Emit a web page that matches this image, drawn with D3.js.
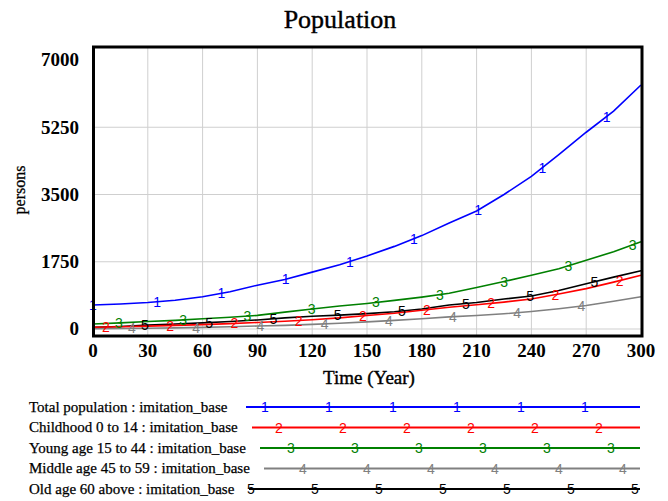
<!DOCTYPE html>
<html>
<head>
<meta charset="utf-8">
<script src="https://cdnjs.cloudflare.com/ajax/libs/d3/7.8.5/d3.min.js"></script>
<style>
  body { margin: 0; background: #fff; }
  svg { display: block; }
  text { font-family: "Liberation Serif", "Times New Roman", serif; fill: #000; }
  .mark { font-family: "Liberation Sans", Arial, sans-serif; font-size: 14px; }
</style>
</head>
<body>
<script>
var years = [0, 15, 30, 45, 60, 75, 90, 105, 120, 135, 150, 165, 180, 195, 210, 225, 240, 255, 270, 285, 300]

var total_population = [625, 650, 690, 750, 840, 970, 1140, 1290, 1480, 1670, 1900, 2150, 2430, 2760, 3070, 3500, 3970, 4540, 5120, 5670, 6350]
var childhood_0_14 = [45, 58, 75, 95, 115, 140, 170, 200, 240, 290, 350, 410, 490, 564, 630, 700, 780, 910, 1050, 1220, 1400]
var young_15_44 = [130, 160, 195, 225, 265, 305, 355, 440, 520, 600, 665, 745, 830, 930, 1080, 1235, 1400, 1570, 1790, 2010, 2272]
var middle_45_59 = [10, 12, 18, 28, 42, 60, 78, 95, 120, 150, 185, 225, 265, 315, 350, 395, 455, 525, 610, 720, 841]
var old_60_above = [45, 65, 100, 130, 160, 195, 235, 290, 330, 360, 400, 450, 520, 624, 690, 780, 860, 1000, 1180, 1350, 1517]

var series_labels = [
  "Total population : imitation_base",
  "Childhood 0 to 14 : imitation_base",
  "Young age 15 to 44 : imitation_base",
  "Middle age 45 to 59 : imitation_base",
  "Old age 60 above : imitation_base"
]
var series_marks = ["1", "2", "3", "4", "5"]
var series_colors = ["#0000ff", "#ff0000", "#008000", "#808080", "#000000"]

var x_ticks = [0, 30, 60, 90, 120, 150, 180, 210, 240, 270, 300]
var y_ticks = [0, 1750, 3500, 5250, 7000]

var series_values = [total_population, childhood_0_14, young_15_44, middle_45_59, old_60_above]
// drawing order: middle age under the others, total on top
var draw_order = [3, 4, 1, 2, 0]

var width = 668, height = 501
var plot_left = 93, plot_right = 641, plot_top = 47, plot_bottom = 336

var svg = d3.select("body")
  .append("svg")
  .attr("width", width)
  .attr("height", height)

var x = d3.scaleLinear().domain([0, 300]).range([plot_left, plot_right])
var y = d3.scaleLinear().domain([0, 7000]).range([329, 60])

// grid
svg.append("g")
  .selectAll("line")
  .data(x_ticks.slice(1, -1))
  .enter()
  .append("line")
  .attr("x1", function(d) { return x(d) })
  .attr("x2", function(d) { return x(d) })
  .attr("y1", plot_top)
  .attr("y2", plot_bottom)
  .style("stroke", "#cfcfcf")
  .style("stroke-width", 1)

svg.append("g")
  .selectAll("line")
  .data(y_ticks.slice(0, -1))
  .enter()
  .append("line")
  .attr("x1", plot_left)
  .attr("x2", plot_right)
  .attr("y1", function(d) { return y(d) })
  .attr("y2", function(d) { return y(d) })
  .style("stroke", "#cfcfcf")
  .style("stroke-width", 1)

// series lines
var line = d3.line()
  .x(function(d) { return x(d[0]) })
  .y(function(d) { return y(d[1]) })

draw_order.forEach(function(i) {
  var pts = years.map(function(t, k) { return [t, series_values[i][k]] })
  svg.append("path")
    .datum(pts)
    .attr("d", line)
    .style("fill", "none")
    .style("stroke", series_colors[i])
    .style("stroke-width", 1.6)
})

// number marks along each line
var mark_step = 64.2
draw_order.forEach(function(i) {
  var interp = d3.scaleLinear().domain(years).range(series_values[i])
  var px = []
  for (var p = plot_left + i * 13; p <= plot_right; p += mark_step) { px.push(p) }
  svg.append("g")
    .selectAll("text")
    .data(px)
    .enter()
    .append("text")
    .attr("class", "mark")
    .attr("x", function(d) { return d })
    .attr("y", function(d) { return y(interp(x.invert(d))) })
    .attr("dy", "0.36em")
    .attr("text-anchor", "middle")
    .style("fill", series_colors[i])
    .text(series_marks[i])
})

// frame
svg.append("rect")
  .attr("x", plot_left + 0.5)
  .attr("y", plot_top)
  .attr("width", plot_right - plot_left + 0.5)
  .attr("height", plot_bottom - plot_top)
  .style("fill", "none")
  .style("stroke", "#000")
  .style("stroke-width", 3)

// axis labels
svg.append("g")
  .selectAll("text")
  .data(y_ticks)
  .enter()
  .append("text")
  .attr("x", 79)
  .attr("y", function(d) { return y(d) })
  .attr("dy", "0.34em")
  .attr("text-anchor", "end")
  .style("font-size", "19px")
  .style("font-weight", "bold")
  .text(function(d) { return d })

svg.append("g")
  .selectAll("text")
  .data(x_ticks)
  .enter()
  .append("text")
  .attr("x", function(d) { return x(d) })
  .attr("y", 357)
  .attr("text-anchor", "middle")
  .style("font-size", "19px")
  .style("font-weight", "bold")
  .text(function(d) { return d })

svg.append("text")
  .attr("x", 369)
  .attr("y", 384)
  .attr("text-anchor", "middle")
  .style("font-size", "19px")
  .style("stroke", "#000")
  .style("stroke-width", 0.4)
  .text("Time (Year)")

svg.append("text")
  .attr("transform", "translate(25,190) rotate(-90)")
  .attr("text-anchor", "middle")
  .style("font-size", "16px")
  .style("stroke", "#000")
  .style("stroke-width", 0.3)
  .text("persons")

svg.append("text")
  .attr("x", 340)
  .attr("y", 28)
  .attr("text-anchor", "middle")
  .style("font-size", "26px")
  .style("stroke", "#000")
  .style("stroke-width", 0.4)
  .text("Population")

// legend
var legend_y = [407, 427.5, 448, 468.5, 489]
var legend_line_start = [246, 252, 260, 264, 249]
var legend_mark_start = [265, 279, 291, 303, 251]
var legend_right = 640

var rows = svg.append("g")
  .selectAll("g")
  .data(series_labels)
  .enter()
  .append("g")

rows.append("text")
  .attr("x", 29)
  .attr("y", function(d, i) { return legend_y[i] })
  .attr("dy", "0.33em")
  .style("font-size", "15px")
  .style("stroke", "#000")
  .style("stroke-width", 0.25)
  .text(function(d) { return d })

rows.append("line")
  .attr("x1", function(d, i) { return legend_line_start[i] })
  .attr("x2", legend_right)
  .attr("y1", function(d, i) { return legend_y[i] })
  .attr("y2", function(d, i) { return legend_y[i] })
  .style("stroke", function(d, i) { return series_colors[i] })
  .style("stroke-width", 2)

rows.each(function(d, i) {
  var px = []
  for (var p = legend_mark_start[i]; p <= legend_right; p += 64) { px.push(p) }
  d3.select(this).selectAll("text.mark")
    .data(px)
    .enter()
    .append("text")
    .attr("class", "mark")
    .attr("x", function(v) { return v })
    .attr("y", legend_y[i])
    .attr("dy", "0.36em")
    .attr("text-anchor", "middle")
    .style("fill", series_colors[i])
    .text(series_marks[i])
})
</script>
</body>
</html>
